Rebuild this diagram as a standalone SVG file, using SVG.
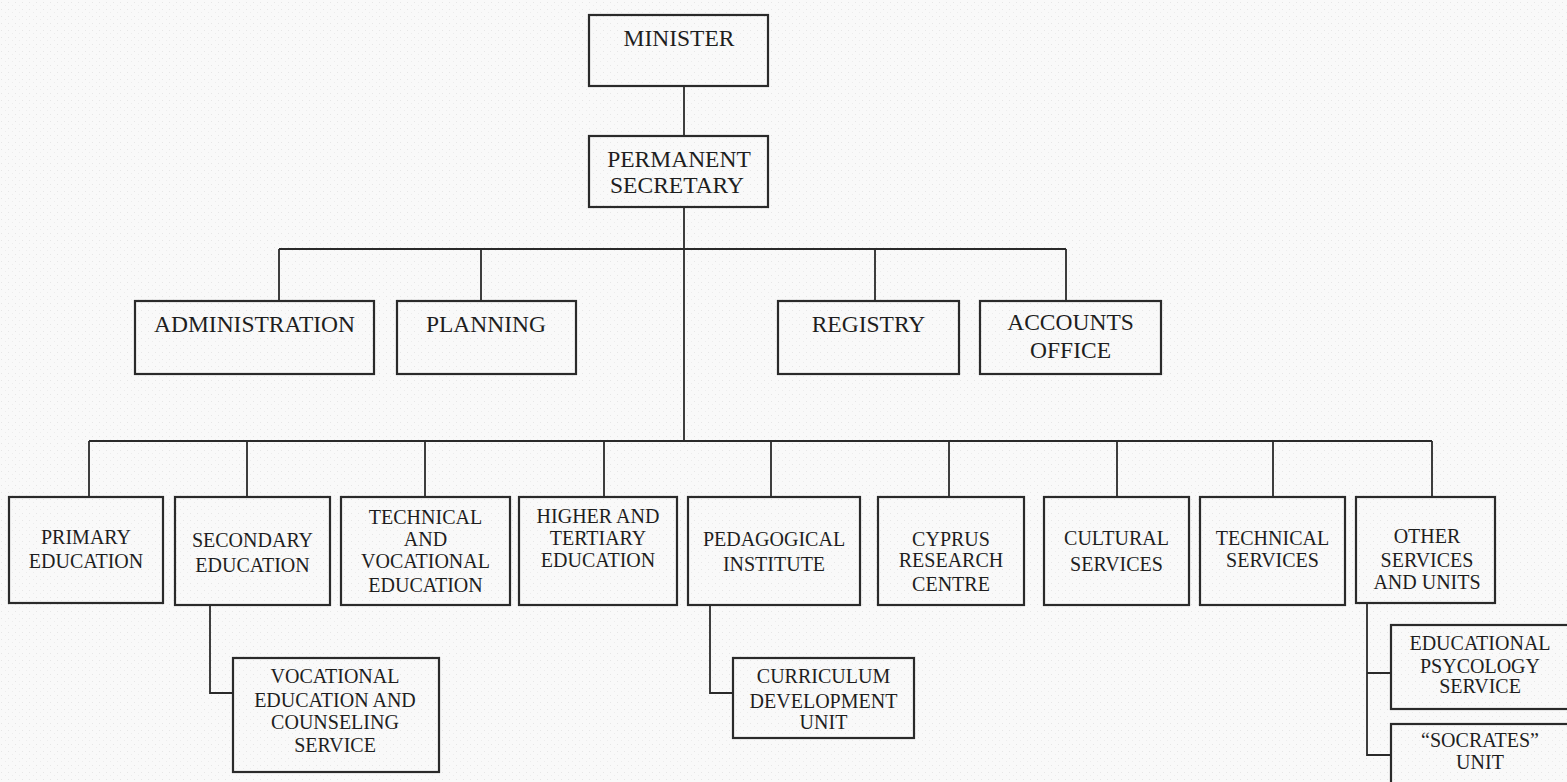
<svg xmlns="http://www.w3.org/2000/svg" width="1567" height="782" viewBox="0 0 1567 782">
<defs>
<pattern id="bg" width="7" height="7" patternUnits="userSpaceOnUse">
<rect width="7" height="7" fill="#f9f9f9"/>
<rect x="1" y="2" width="1" height="1" fill="#e6e6e6"/>
<rect x="5" y="5" width="1" height="1" fill="#ececec"/>
</pattern>
</defs>
<style>
.box{fill:none;stroke:#2a2a2a;stroke-width:2.2}
.lines path{fill:none;stroke:#2a2a2a;stroke-width:1.8}
text{font-family:"Liberation Serif","Times New Roman",serif;fill:#1e1e1e;text-anchor:middle}
.t1{font-size:23.5px}
.t2{font-size:20px}
</style>
<rect width="1567" height="782" fill="url(#bg)"/>
<g class="lines" id="connectors">
<path d="M684 86V136M684 207V441"/>
<path d="M279 249H1066M279 249V301M481 249V301M875 249V301M1066 249V301"/>
<path d="M89 441H1432M89 441V497M247 441V497M425 441V497M604 441V497M771 441V497M949 441V497M1117 441V497M1273 441V497M1432 441V497"/>
<path d="M210 605V693H233"/>
<path d="M710 605V693H733"/>
<path d="M1367 603V755H1391M1367 673H1391"/>
</g>
<g id="minister"><rect class="box" x="589" y="15" width="179" height="71"/><text class="t1" x="679" y="46">MINISTER</text></g>
<g id="permanent-secretary"><rect class="box" x="589" y="136" width="179" height="71"/><text class="t1" x="679" y="167">PERMANENT</text><text class="t1" x="677" y="193">SECRETARY</text></g>
<g id="administration"><rect class="box" x="135" y="301" width="239" height="73"/><text class="t1" x="254.5" y="332">ADMINISTRATION</text></g>
<g id="planning"><rect class="box" x="397" y="301" width="179" height="73"/><text class="t1" x="486" y="332">PLANNING</text></g>
<g id="registry"><rect class="box" x="778" y="301" width="181" height="73"/><text class="t1" x="868.5" y="332">REGISTRY</text></g>
<g id="accounts-office"><rect class="box" x="980" y="301" width="181" height="73"/><text class="t1" x="1070.5" y="330">ACCOUNTS</text><text class="t1" x="1070.5" y="358">OFFICE</text></g>
<g id="primary"><rect class="box" x="9" y="497" width="154" height="106"/><text class="t2" x="86" y="544">PRIMARY</text><text class="t2" x="86" y="568">EDUCATION</text></g>
<g id="secondary"><rect class="box" x="175" y="497" width="155" height="108"/><text class="t2" x="252.5" y="547">SECONDARY</text><text class="t2" x="252.5" y="572">EDUCATION</text></g>
<g id="technical-vocational"><rect class="box" x="341" y="497" width="169" height="108"/><text class="t2" x="425.5" y="524">TECHNICAL</text><text class="t2" x="425.5" y="546">AND</text><text class="t2" x="425.5" y="568">VOCATIONAL</text><text class="t2" x="425.5" y="592">EDUCATION</text></g>
<g id="higher-tertiary"><rect class="box" x="519" y="497" width="158" height="108"/><text class="t2" x="598" y="523">HIGHER AND</text><text class="t2" x="598" y="545">TERTIARY</text><text class="t2" x="598" y="567">EDUCATION</text></g>
<g id="pedagogical"><rect class="box" x="688" y="497" width="172" height="108"/><text class="t2" x="774" y="546">PEDAGOGICAL</text><text class="t2" x="774" y="571">INSTITUTE</text></g>
<g id="cyprus-research"><rect class="box" x="878" y="497" width="146" height="108"/><text class="t2" x="951" y="546">CYPRUS</text><text class="t2" x="951" y="567">RESEARCH</text><text class="t2" x="951" y="591">CENTRE</text></g>
<g id="cultural"><rect class="box" x="1044" y="497" width="145" height="108"/><text class="t2" x="1116.5" y="545">CULTURAL</text><text class="t2" x="1116.5" y="571">SERVICES</text></g>
<g id="technical-services"><rect class="box" x="1200" y="497" width="145" height="108"/><text class="t2" x="1272.5" y="545">TECHNICAL</text><text class="t2" x="1272.5" y="567">SERVICES</text></g>
<g id="other-services"><rect class="box" x="1356" y="497" width="139" height="106"/><text class="t2" x="1427" y="543">OTHER</text><text class="t2" x="1427" y="567">SERVICES</text><text class="t2" x="1427" y="589">AND UNITS</text></g>
<g id="vocational-counseling"><rect class="box" x="233" y="658" width="206" height="114"/><text class="t2" x="335" y="683">VOCATIONAL</text><text class="t2" x="335" y="707">EDUCATION AND</text><text class="t2" x="335" y="729">COUNSELING</text><text class="t2" x="335" y="752">SERVICE</text></g>
<g id="curriculum"><rect class="box" x="733" y="658" width="181" height="80"/><text class="t2" x="823.5" y="683">CURRICULUM</text><text class="t2" x="823.5" y="708">DEVELOPMENT</text><text class="t2" x="823.5" y="729">UNIT</text></g>
<g id="educational-psychology"><rect class="box" x="1391" y="625" width="200" height="84"/><text class="t2" x="1480" y="650">EDUCATIONAL</text><text class="t2" x="1480" y="673">PSYCOLOGY</text><text class="t2" x="1480" y="693">SERVICE</text></g>
<g id="socrates"><rect class="box" x="1391" y="724" width="200" height="80"/><text class="t2" x="1480" y="747">“SOCRATES”</text><text class="t2" x="1480" y="769">UNIT</text></g>
</svg>
